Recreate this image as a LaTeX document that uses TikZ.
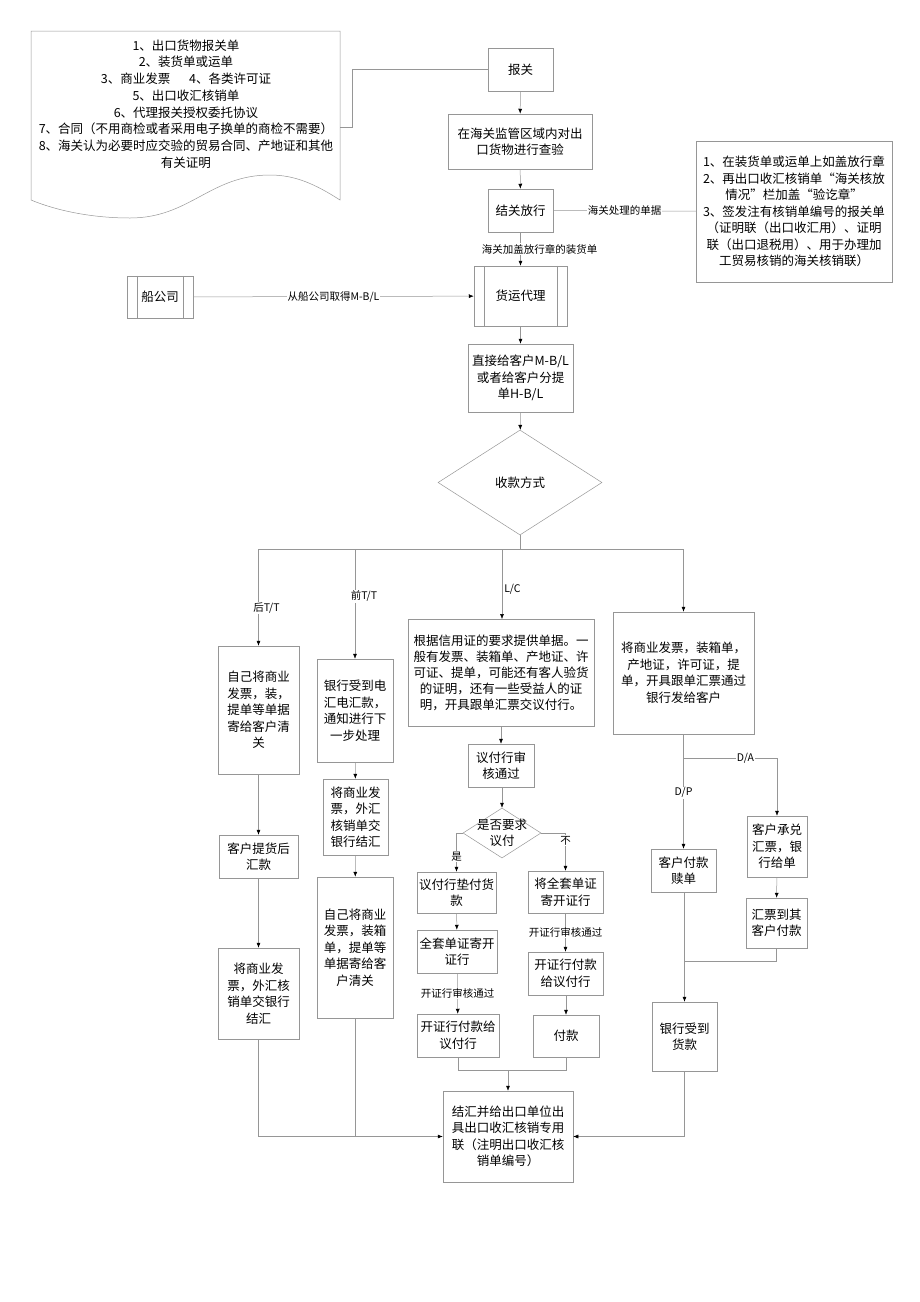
\documentclass[tikz,border=0pt]{standalone}
\usepackage{fontspec}
\setmainfont{Noto Sans CJK SC}
\usepackage{tikz}
\usetikzlibrary{arrows.meta,shapes.geometric,positioning}
\definecolor{linegray}{RGB}{150,150,150}

\begin{document}
\begin{tikzpicture}[x=1pt,y=-1pt]
\tikzstyle{box}=[rectangle,draw=linegray,line width=0.5pt,align=center,inner sep=1pt,font=\fontsize{12.5}{16.5}\selectfont]
\tikzstyle{choice}=[diamond,draw=linegray,line width=0.5pt,inner sep=0pt,font=\fontsize{12.5}{16.5}\selectfont]
\tikzstyle{lbl}=[fill=white,inner sep=1pt,font=\fontsize{10.5}{12}\selectfont]
\tikzstyle{conn}=[draw=linegray,line width=0.5pt]
\tikzstyle{arr}=[conn,-{Latex[length=5pt,width=4pt,black]}]

\useasboundingbox (0,0) rectangle (920,1302);

% documents needed for the declaration
\draw[conn] (31,200) -- (31,31) -- (340,31) -- (340,200)
  .. controls (315,184) and (295,175) .. (270,175)
  .. controls (210,175) and (190,218) .. (130,218)
  .. controls (90,218) and (55,210) .. (31,200);
\node[align=center,font=\fontsize{12.5}{16.7}\selectfont] (docs) at (186,104)
  {1、出口货物报关单\\2、装货单或运单\\3、商业发票\hspace{1.5em}4、各类许可证\\5、出口收汇核销单\\6、代理报关授权委托协议\\7、合同（不用商检或者采用电子换单的商检不需要）\\8、海关认为必要时应交验的贸易合同、产地证和其他\\有关证明};
\coordinate (docsout) at (340,127);

% customs
\node[box,minimum width=65,minimum height=43] (baoguan) at (520.5,69.5) {报关};
\node[box,minimum width=144,minimum height=55] (chayan) at (520,141.5) {在海关监管区域内对出\\口货物进行查验};
\node[box,minimum width=65,minimum height=43] (fangxing) at (520.5,210.5) {结关放行};
\node[box,minimum width=196,minimum height=141] (danju) at (794,211.5)
  {1、在装货单或运单上如盖放行章\\2、再出口收汇核销单“海关核放\\情况”栏加盖“验讫章”\\3、签发注有核销单编号的报关单\\（证明联（出口收汇用）、证明\\联（出口退税用）、用于办理加\\工贸易核销的海关核销联）};

% forwarder
\node[box,minimum width=66,minimum height=42] (chuan) at (160,297) {船公司};
\node[box,minimum width=93,minimum height=60] (huoyun) at (520.5,296) {货运代理};
\node[box,minimum width=105,minimum height=68] (tidan) at (520.5,378) {直接给客户M-B/L\\或者给客户分提\\单H-B/L};
\node[choice,minimum width=164,minimum height=105] (shoukuan) at (520,482.5) {收款方式};
\foreach \n in {chuan,huoyun}{
  \draw[conn] ([xshift=10]\n.north west) -- ([xshift=10]\n.south west);
  \draw[conn] ([xshift=-10]\n.north east) -- ([xshift=-10]\n.south east);
}

% payment ways
\node[box,minimum width=81,minimum height=128] (houtt) at (258.5,710) {自己将商业\\发票，装，\\提单等单据\\寄给客户清\\关};
\node[box,minimum width=79,minimum height=43] (tihuo) at (258.5,856.5) {客户提货后\\汇款};
\node[box,minimum width=81,minimum height=91] (jiehuia) at (258.5,993.5) {将商业发\\票，外汇核\\销单交银行\\结汇};

\node[box,minimum width=76,minimum height=103] (qiantt) at (355,710.5) {银行受到电\\汇电汇款，\\通知进行下\\一步处理};
\node[box,minimum width=65,minimum height=76] (jiehuib) at (355.5,817) {将商业发\\票，外汇\\核销单交\\银行结汇};
\node[box,minimum width=76,minimum height=141] (jiqing) at (355,947.5) {自己将商业\\发票，装箱\\单，提单等\\单据寄给客\\户清关};

\node[box,minimum width=186,minimum height=107,font=\fontsize{12.5}{16}\selectfont] (lc) at (501,672.5)
  {根据信用证的要求提供单据。一\\般有发票、装箱单、产地证、许\\可证、提单，可能还有客人验货\\的证明，还有一些受益人的证\\明，开具跟单汇票交议付行。};
\node[box,minimum width=66,minimum height=43] (shenhe) at (501,765.5) {议付行审\\核通过};
\node[choice,minimum width=78,minimum height=50,label={[align=center,font=\fontsize{12.5}{16.5}\selectfont]center:是否要求\\议付}] (yifu) at (502,833) {};
\node[box,minimum width=79,minimum height=41] (dianfu) at (456.5,892.5) {议付行垫付货\\款};
\node[box,minimum width=80,minimum height=43] (jikaia) at (457,951.5) {全套单证寄开\\证行};
\node[box,minimum width=82,minimum height=43] (fukuana) at (458,1035.5) {开证行付款给\\议付行};
\node[box,minimum width=75,minimum height=42] (jikaib) at (565.5,892) {将全套单证\\寄开证行};
\node[box,minimum width=75,minimum height=43] (fukuanb) at (565.5,973.5) {开证行付款\\给议付行};
\node[box,minimum width=66,minimum height=42] (fukuanc) at (566,1036) {付款};

\node[box,minimum width=141,minimum height=122] (tuoshou) at (683.5,673) {将商业发票，装箱单，\\产地证，许可证，提\\单，开具跟单汇票通过\\银行发给客户};
\node[box,minimum width=65,minimum height=43] (shudan) at (683.5,870.5) {客户付款\\赎单};
\node[box,minimum width=60,minimum height=61] (chengdui) at (777,846.5) {客户承兑\\汇票，银\\行给单};
\node[box,minimum width=61,minimum height=50] (daoqi) at (776.5,923) {汇票到其\\客户付款};
\node[box,minimum width=65,minimum height=69] (shoudao) at (684.5,1036.5) {银行受到\\货款};

\node[box,minimum width=130,minimum height=91] (final) at (508,1136.5) {结汇并给出口单位出\\具出口收汇核销专用\\联（注明出口收汇核\\销单编号）};

% connectors, top part
\draw[conn] (docsout) -- ++(12,0) |- (baoguan.west);
\draw[arr] (baoguan) -- (chayan);
\draw[arr] (chayan) -- (fangxing);
\draw[arr] (fangxing) -- node[lbl,xshift=19]{海关加盖放行章的装货单} (huoyun);
\draw[conn] (fangxing) -- node[lbl]{海关处理的单据} (danju);
\draw[arr] (chuan) -- node[lbl]{从船公司取得M-B/L} (huoyun);
\draw[arr] (huoyun) -- (tidan);
\draw[arr] (tidan) -- (shoukuan);

% split into the four ways
\coordinate (split) at (520,549);
\draw[conn] (shoukuan.south) -- (split);
\draw[conn] (split -| houtt.north) -- (split -| tuoshou.north);
\draw[arr] (split -| houtt.north) -- node[lbl,pos=0.61,xshift=8]{后T/T} (houtt.north);
\draw[arr] (split -| qiantt.north) -- node[lbl,pos=0.43,xshift=9]{前T/T} (qiantt.north);
\draw[arr] (split -| 502,0) -- node[lbl,pos=0.57,anchor=west,xshift=1]{L/C} (502,619);
\draw[arr] (split -| tuoshou.north) -- (tuoshou.north);

% T/T after
\draw[arr] (houtt) -- (tihuo);
\draw[arr] (tihuo) -- (jiehuia);
\draw[arr] (jiehuia.south) |- (final.west);

% T/T before
\draw[arr] (qiantt) -- (jiehuib);
\draw[arr] (jiehuib) -- (jiqing);
\draw[conn] (jiqing.south) -- (jiqing.south |- final.west);

% L/C
\draw[arr] (lc.south -| shenhe) -- (shenhe);
\draw[arr] (shenhe.south -| yifu) -- (yifu.north);
\draw[arr] (yifu.west) -| node[lbl,pos=0.8]{是} (dianfu.north);
\draw[arr] (yifu.east) -| node[lbl,pos=0.6]{不} (jikaib.north);
\draw[arr] (dianfu) -- (jikaia);
\draw[arr] (jikaia) -- node[lbl]{开证行审核通过} (fukuana);
\draw[arr] (jikaib) -- node[lbl]{开证行审核通过} (fukuanb);
\draw[arr] (fukuanb.south -| fukuanc) -- (fukuanc);
\coordinate (lcjoin) at (508,1070);
\draw[conn] (fukuana.south) |- (lcjoin);
\draw[conn] (fukuanc.south) |- (lcjoin);
\draw[arr] (lcjoin) -- (final.north);

% D/P and D/A
\coordinate (dasplit) at (684,758);
\draw[arr] (tuoshou.south -| shudan) -- node[lbl,pos=0.51]{D/P} (shudan.north);
\draw[arr] (dasplit) -| node[lbl,pos=0.33]{D/A} (chengdui.north);
\draw[arr] (chengdui) -- (daoqi);
\coordinate (dpjoin) at (684,961);
\draw[conn] (daoqi.south) |- (dpjoin);
\draw[arr] (shudan.south -| shoudao) -- (shoudao.north);
\draw[arr] (shoudao.south) |- (final.east);
\end{tikzpicture}
\end{document}
